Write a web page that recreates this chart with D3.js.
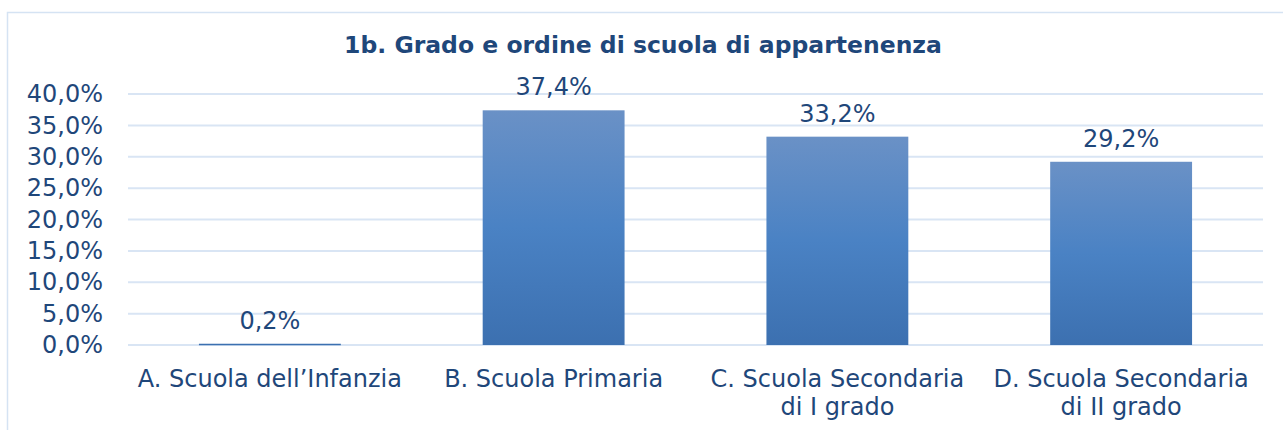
<!DOCTYPE html>
<html>
<head>
<meta charset="utf-8">
<script src="https://cdn.jsdelivr.net/npm/d3@7"></script>
<style>
  body { margin: 0; background: #fff; }
  svg { display: block; font-family: "DejaVu Sans", Verdana, sans-serif; }
  .tick text, .lbl, .cat { fill: #1f477a; }
</style>
</head>
<body>
<svg width="1283" height="430"></svg>
<script>
var categories = [
  ["A. Scuola dell\u2019Infanzia"],
  ["B. Scuola Primaria"],
  ["C. Scuola Secondaria", "di I grado"],
  ["D. Scuola Secondaria", "di II grado"]
];
var values = [0.2, 37.4, 33.2, 29.2];
var tickValues = [0, 5, 10, 15, 20, 25, 30, 35, 40];
var title = "1b. Grado e ordine di scuola di appartenenza";

var svg = d3.select("svg"),
    margin = { top: 94, right: 20, bottom: 85, left: 128 },
    width = 1263 - margin.left,
    height = 345 - margin.top;

var fmt = function (v) { return v.toFixed(1).replace(".", ",") + "%"; };

// chart border
svg.append("rect")
    .attr("x", 7.5).attr("y", 12.5)
    .attr("width", 1290).attr("height", 430)
    .attr("fill", "none")
    .attr("stroke", "#d5e3f3")
    .attr("stroke-width", 1.5);

var defs = svg.append("defs");
var grad = defs.append("linearGradient")
    .attr("id", "barGrad")
    .attr("x1", 0).attr("y1", 0).attr("x2", 0).attr("y2", 1);
grad.append("stop").attr("offset", "0%").attr("stop-color", "#6a91c6");
grad.append("stop").attr("offset", "50%").attr("stop-color", "#4a82c4");
grad.append("stop").attr("offset", "100%").attr("stop-color", "#3c70b0");

svg.append("text")
    .attr("x", 643).attr("y", 53)
    .attr("text-anchor", "middle")
    .attr("font-weight", "bold")
    .attr("font-size", 23.5)
    .attr("fill", "#1f477a")
    .text(title);

var x = d3.scaleBand().domain(d3.range(categories.length)).range([0, width]).paddingInner(0.5).paddingOuter(0.25),
    y = d3.scaleLinear().domain([0, 40]).range([height, 0]);

var g = svg.append("g")
    .attr("transform", "translate(" + margin.left + "," + margin.top + ")");

// gridlines
g.append("g")
    .selectAll("line")
    .data(tickValues)
    .enter().append("line")
    .attr("x1", 0).attr("x2", width)
    .attr("y1", function (d) { return y(d); })
    .attr("y2", function (d) { return y(d); })
    .attr("stroke", "#d9e5f4")
    .attr("stroke-width", 2);

var yAxis = g.append("g")
    .attr("class", "axis axis--y")
    .call(d3.axisLeft(y).tickValues(tickValues).tickFormat(fmt).tickSize(0).tickPadding(25));
yAxis.select(".domain").remove();
yAxis.selectAll("text").attr("font-size", 24).attr("font-family", "DejaVu Sans, Verdana, sans-serif");

g.selectAll(".bar")
    .data(values)
    .enter().append("rect")
    .attr("class", "bar")
    .attr("x", function (d, i) { return x(i); })
    .attr("y", function (d) { return y(d); })
    .attr("width", x.bandwidth())
    .attr("height", function (d) { return Math.max(height - y(d), 1.5); })
    .attr("fill", function (d) { return d < 1 ? "#3c70b0" : "url(#barGrad)"; });

g.selectAll(".lbl")
    .data(values)
    .enter().append("text")
    .attr("class", "lbl")
    .attr("x", function (d, i) { return x(i) + x.bandwidth() / 2; })
    .attr("y", function (d) { return y(d) - 15; })
    .attr("text-anchor", "middle")
    .attr("font-size", 24)
    .text(fmt);

var cat = g.selectAll(".cat")
    .data(categories)
    .enter().append("text")
    .attr("class", "cat")
    .attr("x", function (d, i) { return x(i) + x.bandwidth() / 2; })
    .attr("y", height + 42)
    .attr("text-anchor", "middle")
    .attr("font-size", 24);
cat.selectAll("tspan")
    .data(function (d) { return d; })
    .enter().append("tspan")
    .attr("x", function () { return d3.select(this.parentNode).attr("x"); })
    .attr("dy", function (d, i) { return i === 0 ? 0 : 28; })
    .text(function (d) { return d; });
</script>
</body>
</html>
